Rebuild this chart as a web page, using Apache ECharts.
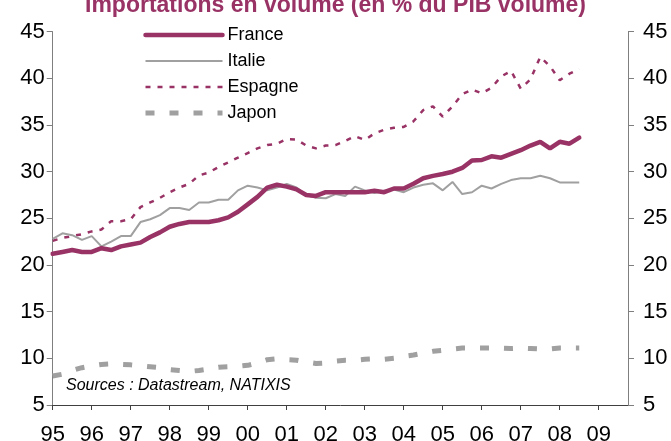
<!DOCTYPE html>
<html>
<head>
<meta charset="utf-8">
<script src="https://cdn.jsdelivr.net/npm/echarts@6/dist/echarts.min.js"></script>
<style>html,body{margin:0;padding:0;background:#fff;}#c{width:671px;height:441px;}</style>
</head>
<body>
<div id="c"></div>
<script>
var yearLabels = ['95','96','97','98','99','00','01','02','03','04','05','06','07','08','09'];
var quarterNames = ['T1','T2','T3','T4'];
var yTicks = [5,10,15,20,25,30,35,40,45];

var france = [21.2,21.4,21.6,21.4,21.4,21.8,21.6,22.0,22.2,22.4,23.0,23.5,24.1,24.4,24.6,24.6,
  24.6,24.8,25.1,25.7,26.5,27.3,28.3,28.6,28.4,28.1,27.5,27.4,27.8,27.8,27.8,27.8,
  27.8,27.95,27.8,28.2,28.2,28.7,29.3,29.55,29.75,30.0,30.4,31.2,31.25,31.65,31.5,31.9,
  32.3,32.8,33.2,32.5,33.2,33.0,33.65];
var italie = [22.8,23.4,23.2,22.7,23.1,22.0,22.5,23.1,23.1,24.6,24.9,25.35,26.1,26.1,25.9,26.7,
  26.7,27.0,27.0,28.0,28.5,28.3,28.0,28.3,28.7,28.3,27.5,27.2,27.15,27.6,27.4,28.4,
  28.0,27.7,27.95,28.1,27.8,28.3,28.6,28.75,28.0,28.9,27.6,27.8,28.5,28.2,28.7,29.1,
  29.3,29.3,29.57,29.3,28.85,28.85,28.85];
var espagne = [22.6,22.9,23.1,23.3,23.6,23.8,24.7,24.7,24.9,26.2,26.7,27.2,27.8,28.3,28.7,29.6,
  29.9,30.5,31.0,31.5,32.0,32.5,32.85,33.0,33.5,33.45,32.8,32.5,32.8,32.85,33.3,33.8,
  33.4,34.1,34.5,34.7,34.8,35.4,36.6,37.0,35.9,37.0,38.3,38.8,38.4,39.0,40.2,40.8,
  38.9,39.9,42.3,41.3,39.8,40.5,41.0];
var japon = [8.1,8.3,8.7,9.0,9.2,9.35,9.4,9.35,9.3,9.2,9.1,9.0,8.8,8.7,8.6,8.7,
  8.85,9.05,9.1,9.15,9.25,9.5,9.85,9.95,9.85,9.8,9.6,9.45,9.5,9.7,9.8,9.8,
  9.9,9.95,9.9,10.0,10.2,10.35,10.55,10.75,10.85,11.0,11.1,11.1,11.1,11.1,11.1,11.05,
  11.1,11.05,11.0,11.0,11.1,11.1,11.1];

var categories = [];
yearLabels.forEach(function(y){ quarterNames.forEach(function(q){ categories.push(y + q); }); });

var maroon = '#993366';
var grey = '#a0a0a0';
var font = 'Liberation Sans, Arial, sans-serif';

var styles = {
  France: {color: maroon, width: 4.5, type: 'solid', cap: 'round'},
  Italie: {color: grey, width: 2, type: 'solid'},
  Espagne: {color: maroon, width: 2.5, type: [5,7]},
  Japon: {color: grey, width: 5, type: [9,15]}
};

var chart = echarts.init(document.getElementById('c'), null, {renderer:'canvas'});
chart.setOption({
  animation: false,
  backgroundColor: '#ffffff',
  title: {
    text: 'Importations en volume (en % du PIB volume)',
    left: 'center',
    top: -11,
    textStyle: {color: maroon, fontSize: 23, fontWeight: 'bold', fontFamily: font}
  },
  legend: {
    orient: 'vertical',
    left: 143,
    top: 26,
    padding: 0,
    itemWidth: 77,
    itemHeight: 18,
    itemGap: 8,
    itemStyle: {opacity: 0},
    textStyle: {color: '#000', fontSize: 18, fontFamily: font},
    data: ['France','Italie','Espagne','Japon'].map(function(n){
      return {name: n, lineStyle: styles[n], itemStyle: {opacity: 0}};
    })
  },
  grid: {left: 52.7, right: 43, top: 31.7, bottom: 36, containLabel: false, outerBoundsMode: 'none'},
  xAxis: {
    type: 'category',
    data: categories,
    boundaryGap: false,
    axisLine: {lineStyle: {color: '#404040', width: 1}},
    axisTick: {interval: 3, length: 5, lineStyle: {color: '#404040'}},
    axisLabel: {interval: 3, margin: 19, color: '#000', fontSize: 22, fontFamily: font,
      formatter: function(v){ return v.slice(0,2); }},
    splitLine: {show: false}
  },
  yAxis: [{
    type: 'value', min: yTicks[0], max: yTicks[yTicks.length-1], interval: 5, position: 'left',
    axisLine: {show: true, lineStyle: {color: '#7f7f7f'}},
    axisTick: {show: true, length: 6, lineStyle: {color: '#7f7f7f'}},
    axisLabel: {margin: 8, color: '#000', fontSize: 22, fontFamily: font},
    splitLine: {show: false}
  },{
    type: 'value', min: yTicks[0], max: yTicks[yTicks.length-1], interval: 5, position: 'right',
    axisLine: {show: true, lineStyle: {color: '#7f7f7f'}},
    axisTick: {show: true, length: 6, lineStyle: {color: '#7f7f7f'}},
    axisLabel: {margin: 15, color: '#000', fontSize: 22, fontFamily: font},
    splitLine: {show: false}
  }],
  graphic: [{
    type: 'text',
    left: 66,
    top: 378,
    style: {text: 'Sources : Datastream, NATIXIS', fill: '#000', font: 'italic 16px "Liberation Sans", Arial, sans-serif'}
  }],
  series: [
    {name: 'Japon', type: 'line', data: japon, symbol: 'none', z: 1,
      lineStyle: styles.Japon, itemStyle: {color: grey}},
    {name: 'Espagne', type: 'line', data: espagne, symbol: 'none', z: 2,
      lineStyle: styles.Espagne, itemStyle: {color: maroon}},
    {name: 'Italie', type: 'line', data: italie, symbol: 'none', z: 3,
      lineStyle: styles.Italie, itemStyle: {color: grey}},
    {name: 'France', type: 'line', data: france, symbol: 'none', z: 4,
      lineStyle: styles.France, itemStyle: {color: maroon}}
  ]
});
</script>
</body>
</html>
